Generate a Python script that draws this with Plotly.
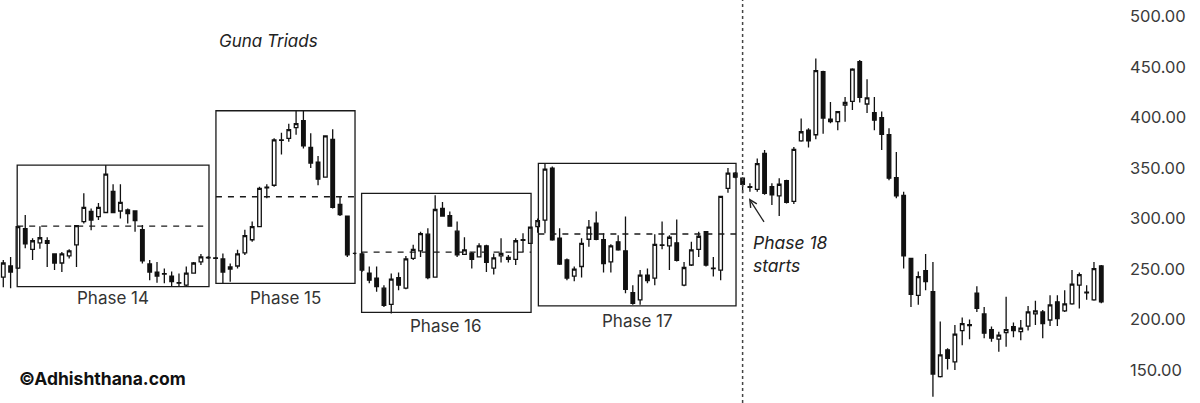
import plotly.graph_objects as go

idx = list(range(151))
opens = [242,253,251,290,269.5,276,278,265,256,263,274,297,307,302,306,327,307.5,308.5,307.5,289,
         255,247,245.5,243,236.5,234,246,257,261,261,260,250,253,266,279,292,330.5,333,377.5,379.5,
         390,397,370.5,356,341,378.5,314,302.5,265.5,265,246,241,231,215,241.5,231,260.5,268,284.5,242,
         310,303,287.5,264.5,265.5,262,273,251,263,261.5,259.5,278.5,275.5,292,298.5,350,280.5,259,243,252.5,
         279.5,295.5,279,257,277,268,226.5,219.5,244,241,273.5,273,276,234,254,269.5,287,250.5,249,330,
         345,340,331,329,364.5,331.5,322.5,337.5,317,377,387.5,383,445.5,398.5,396,412.5,416,455.5,413.5,405,
         400,383,340.5,323,260.5,224,248.5,227.5,143.5,170,158,189,194,226,205.5,190,180.5,187,193,188,
         193.5,205.5,207.5,199.5,217.5,208.5,215.5,234,227,219.5,253]
highs = [259,262,293,303.5,280.5,292.5,281.5,265.5,267,269.5,293,325,310,315.5,353,334,334,310,307.5,293.5,
         259,257,250.5,247.5,245.5,252.5,257,265,263,262,265.5,255.5,269,289,297,331.5,334,379.5,385,394,
         407.5,407.5,384.5,362,382.5,388.5,321.5,302.5,266.5,267,252.5,252.5,234,245.5,246.5,263,274,287,290.5,323,
         316.5,307,297,281.5,267,275.5,274,265.5,280.5,264,280.5,285.5,292,300,354.5,351.5,290.5,260.5,252.5,280.5,
         298.5,307,285.5,274.5,283.5,302,234,249,250.5,284.5,297,283.5,299,257,277,287,287.5,262,322.5,350,
         346,341,335,359.5,368,335,340,338.5,371,399,389.5,458.5,446.5,415.5,406.5,420.5,449,457,438,420.5,
         406,389.5,366,326.5,260.5,247.5,265,257,198,171.5,194.5,202,200,233,212.5,193,188,222.5,197,199.5,
         213.5,218.5,209.5,224,224,229,249,246.5,234,257,254]
lows = [232,231,250,270.5,259,270,252,249,247,260.5,252,295,288.5,298.5,306,306,300,295,287,255.5,
        239,236.5,236,232.5,232.5,232.5,245.5,254,260,260,236,237.5,250.5,264,277,291.5,320,331.5,363.5,376,
        383,369.5,350,333,340.5,310,302.5,262,264.5,247,236,227.5,212.5,206,229,230,259,262,240,242,
        302,292,262,264,250.5,261.5,247,244.5,256.5,256.5,254,267,275,286,285.5,278,254,239,238,241.5,
        272,278.5,246.5,246.5,268,226,214.5,214.5,236,234,269.5,249,257.5,233,253,262,252.5,242.5,239,325.5,
        340,325,326.5,326.5,323.5,313.5,302.5,315,314.5,376,370.5,378.5,384,394.5,387.5,396,407.5,415,404.5,387.5,
        368,338,320,250.5,212.5,214.5,229,123.5,142.5,150.5,150,174.5,180.5,207.5,181.5,178,168,173,182.5,179.5,
        189,194.5,181.5,193.5,193.5,207.5,214.5,211,219.5,218.5,216]
closes = [256,247,292,275,278,281,275.5,256,265,268,293,311,298.5,311,344,306,316,305,298,258,
          247,243,245,237.5,236,246,256,262,261.5,260.5,247,252,265,283,292,330,331,378,378,388,
          394,372,355,339,382,311,304,264,265.5,249,239,232.5,214,240,234,260,269.5,285,241.5,309,
          302.5,292.5,264,269,259.5,273,256.5,261,265.5,259.5,278,279,291.5,298,349,279,255,241,250,275.5,
          291.5,279.5,255.5,273,269,230,216,244,238.5,274.5,274,281.5,258.5,251.5,269,282.5,254,251,322,345,
          341,334,331.5,354.5,325,323.5,334,316,368.5,386,377,446.5,399.5,396,406,415,448,420,419.5,397.5,
          383.5,340,322.5,263,225,242.5,237.5,146,165,161.5,185.5,196,195,211,186.5,181.5,184.5,190,189,191.5,
          207.5,208.5,196,214.5,201,215.5,235,244.5,226.5,250.5,217.5]

y_ticks = [150, 200, 250, 300, 350, 400, 450, 500]
y_tick_text = ["150.00", "200.00", "250.00", "300.00", "350.00", "400.00", "450.00", "500.00"]

# phase boxes
phase_names = ["Phase 14", "Phase 15", "Phase 16", "Phase 17"]
box_x0 = [1.9, 29.05, 48.95, 73.1]
box_x1 = [28.1, 48.05, 72.1, 100.1]
box_low = [232.5, 235.8, 207.1, 213.6]
box_high = [353.0, 406.8, 325.0, 354.7]
box_mid = [292.6, 321.6, 266.8, 284.7]
label_y = [221.0, 221.5, 194.0, 199.0]

phase18_x = 101
arrow_tip_x = 101.87
arrow_tip_y = 320.0

fig = go.Figure()
fig.add_trace(go.Candlestick(
    x=idx, open=opens, high=highs, low=lows, close=closes,
    increasing=dict(line=dict(color="#111111", width=1.3), fillcolor="#ffffff"),
    decreasing=dict(line=dict(color="#111111", width=1.3), fillcolor="#111111"),
    whiskerwidth=0, showlegend=False, hoverinfo="skip",
))

shapes = []
annotations = []
for i in range(4):
    shapes.append(dict(type="rect", xref="x", yref="y", x0=box_x0[i], x1=box_x1[i],
                       y0=box_low[i], y1=box_high[i], line=dict(color="#1a1a1a", width=1.3)))
    shapes.append(dict(type="line", xref="x", yref="y", x0=box_x0[i], x1=box_x1[i],
                       y0=box_mid[i], y1=box_mid[i], line=dict(color="#1a1a1a", width=1.3, dash="6px,6px")))
    annotations.append(dict(x=(box_x0[i] + box_x1[i]) / 2, y=label_y[i], xref="x", yref="y",
                            text=phase_names[i], showarrow=False,
                            font=dict(family="Inter", size=17, color="#333333")))

shapes.append(dict(type="line", xref="x", yref="paper", x0=phase18_x, x1=phase18_x, y0=0, y1=1,
                   line=dict(color="#444444", width=1.5, dash="dot")))

annotations.append(dict(x=36.2, y=476, xref="x", yref="y", text="<i>Guna Triads</i>", showarrow=False,
                        font=dict(family="Inter", size=17, color="#222222")))
annotations.append(dict(x=102.2, y=264.5, xref="x", yref="y", text="<i>Phase 18<br>starts</i>",
                        showarrow=False, xanchor="left", yanchor="middle", align="left",
                        font=dict(family="Inter", size=17.5, color="#222222")))
annotations.append(dict(x=arrow_tip_x, y=arrow_tip_y, xref="x", yref="y", ax=16, ay=25, text="",
                        showarrow=True, arrowhead=5, arrowsize=1.1, arrowwidth=1.3,
                        arrowcolor="#222222", standoff=0))
annotations.append(dict(x=0.015, y=0.062, xref="paper", yref="paper", text="<b>©Adhishthana.com</b>",
                        showarrow=False, xanchor="left", yanchor="middle",
                        font=dict(family="Inter", size=17.5, color="#111111")))

fig.update_layout(
    width=1200, height=403,
    margin=dict(l=0, r=90, t=0, b=0),
    paper_bgcolor="white", plot_bgcolor="white",
    shapes=shapes, annotations=annotations,
    xaxis=dict(range=[-0.45, 151.19], visible=False, rangeslider=dict(visible=False), showgrid=False),
    yaxis=dict(range=[117.3, 516.5], side="right", showgrid=False, zeroline=False, showline=False,
               tickvals=y_ticks, ticktext=y_tick_text, ticks="", ticklabelstandoff=19,
               tickfont=dict(family="Inter", size=16.5, color="#3a3a3a")),
)

fig.write_html("out.html", config={"displayModeBar": False},
               post_script="document.body.style.margin='0';document.body.style.padding='0';"
                           "document.body.style.overflow='hidden';")
